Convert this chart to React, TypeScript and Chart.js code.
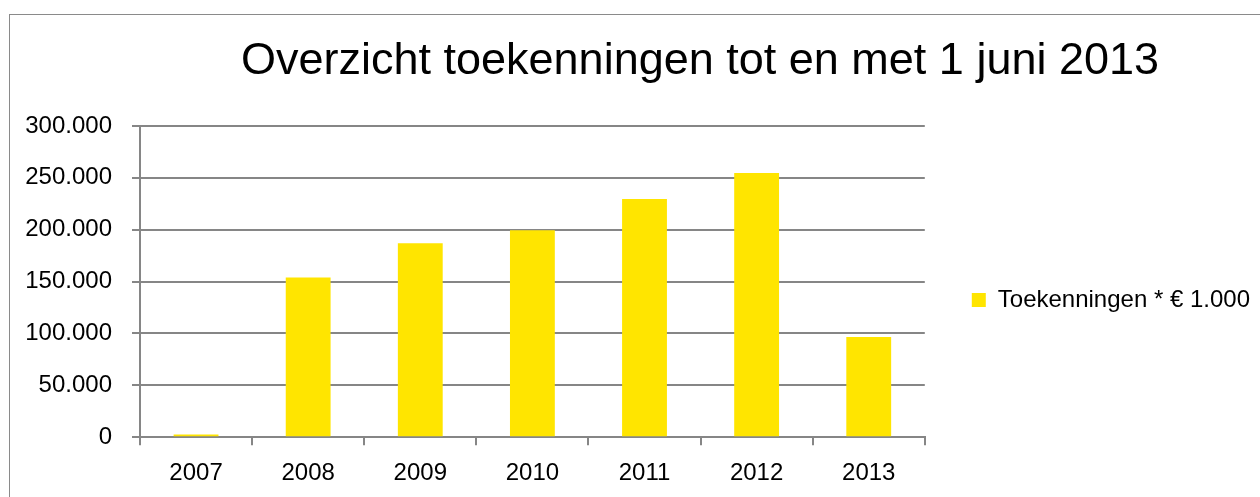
import React, { useEffect, useRef } from "react";
import { Chart, registerables } from "chart.js";

Chart.register(...registerables);

const TITLE = "Overzicht toekenningen tot en met 1 juni 2013";
const SERIES_LABEL = "Toekenningen * € 1.000";
const YEARS = ["2007", "2008", "2009", "2010", "2011", "2012", "2013"];
const VALUES = [2500, 154000, 187000, 199500, 229700, 254800, 96500];
const Y_MIN = 0;
const Y_MAX = 300000;
const Y_STEP = 50000;

const BAR_COLOR = "#FFE500";
const AXIS_COLOR = "#868686";
const SANS = "'Liberation Sans', Arial, sans-serif";

function fmt(v: number): string {
  return String(v).replace(/\B(?=(\d{3})+(?!\d))/g, ".");
}

// Centre the title over the region right of the value axis, and centre the
// legend vertically in the space beneath the title (as in the reference).
const layoutTweaks = {
  id: "layoutTweaks",
  afterLayout(chart: any) {
    const t = chart.titleBlock;
    if (t) {
      t.left = 140;
      t.right = chart.width;
    }
    const l = chart.legend;
    if (l) {
      l.top = 103;
      l.bottom = chart.height;
    }
  },
};

export default function App() {
  const ref = useRef<HTMLCanvasElement | null>(null);

  useEffect(() => {
    if (!ref.current) return;
    const chart = new Chart(ref.current, {
      type: "bar",
      data: {
        labels: YEARS,
        datasets: [
          {
            label: SERIES_LABEL,
            data: VALUES,
            backgroundColor: BAR_COLOR,
            borderWidth: 0,
            barPercentage: 0.4,
            categoryPercentage: 1,
          },
        ],
      },
      plugins: [layoutTweaks],
      options: {
        responsive: false,
        animation: false,
        devicePixelRatio: 1,
        layout: { padding: { left: 0, right: 0, top: 0, bottom: -5 } },
        plugins: {
          tooltip: { enabled: false },
          title: {
            display: true,
            text: TITLE,
            color: "#000",
            font: { family: SANS, size: 45, weight: "normal" },
            padding: { top: 35, bottom: 37 },
          },
          legend: {
            display: true,
            position: "right",
            maxWidth: 500,
            labels: {
              color: "#000",
              font: { family: SANS, size: 24 },
              boxWidth: 14,
              boxHeight: 14,
              padding: 47,
            },
          },
        },
        scales: {
          x: {
            offset: true,
            grid: {
              display: true,
              drawOnChartArea: false,
              drawTicks: true,
              tickLength: 8,
              color: AXIS_COLOR,
              lineWidth: 2,
              offset: true,
            },
            border: { display: true, color: AXIS_COLOR, width: 2 },
            ticks: {
              color: "#000",
              font: { family: SANS, size: 24 },
              padding: 14,
              maxRotation: 0,
            },
          },
          y: {
            min: Y_MIN,
            max: Y_MAX,
            afterFit: (scale: any) => {
              scale.width = 140;
            },
            grid: {
              display: true,
              drawOnChartArea: true,
              drawTicks: true,
              tickLength: 8,
              color: AXIS_COLOR,
              lineWidth: 2,
            },
            border: { display: true, color: AXIS_COLOR, width: 2 },
            ticks: {
              stepSize: Y_STEP,
              color: "#000",
              font: { family: SANS, size: 24 },
              padding: 20,
              callback: (v: any) => fmt(Number(v)),
            },
          },
        },
      },
    });
    return () => chart.destroy();
  }, []);

  return (
    <div
      style={{
        position: "fixed",
        left: 0,
        top: 0,
        width: 1260,
        height: 497,
        overflow: "hidden",
        background: "#fff",
      }}
    >
      <div
        style={{
          position: "absolute",
          left: 9,
          top: 14,
          width: 2000,
          height: 2000,
          border: "1px solid #8a8a8a",
        }}
      />
      <canvas
        ref={ref}
        width={1260}
        height={497}
        style={{ position: "absolute", left: 0, top: 0, width: 1260, height: 497 }}
      />
    </div>
  );
}
